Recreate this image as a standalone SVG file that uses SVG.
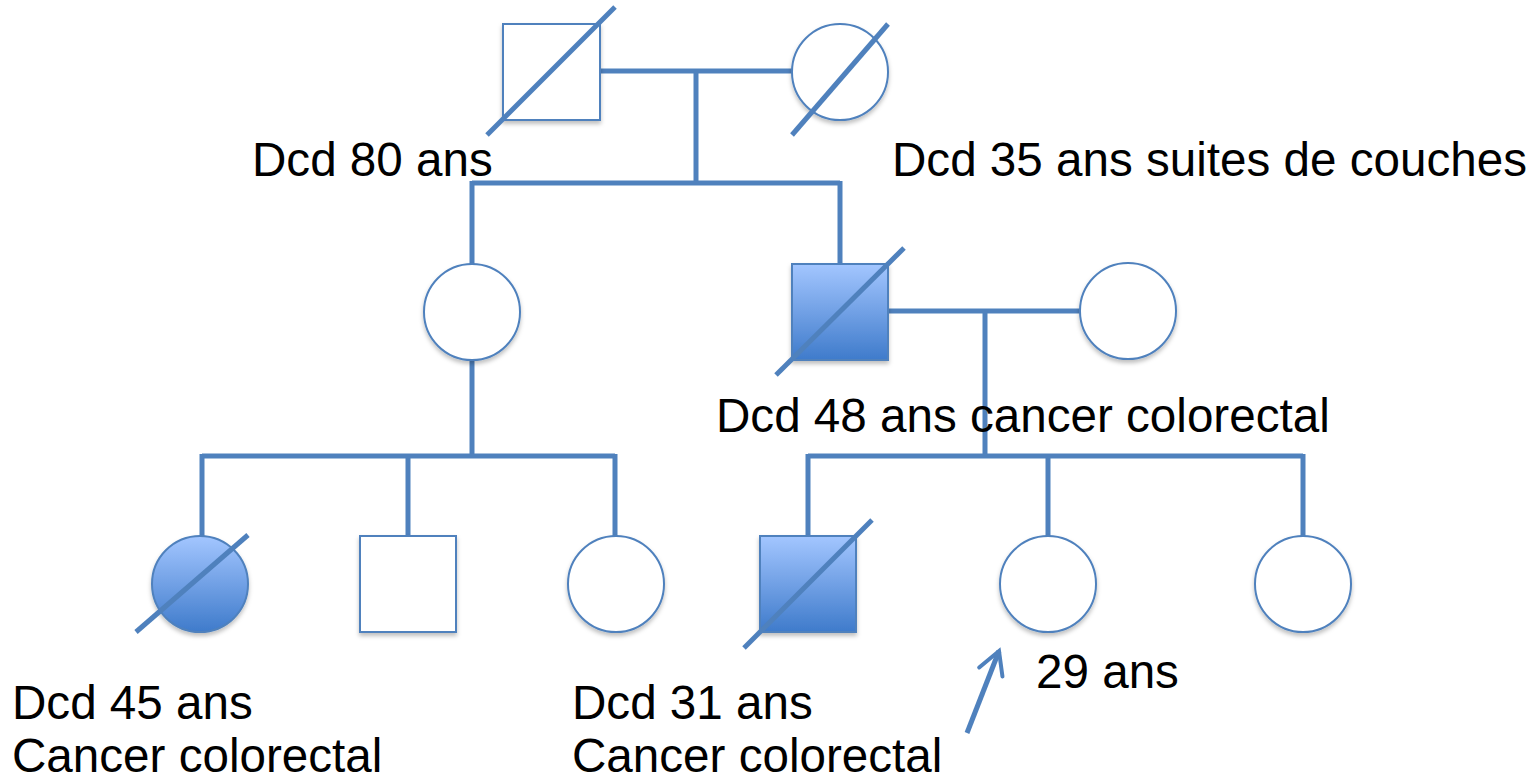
<svg xmlns="http://www.w3.org/2000/svg" width="1537" height="784" viewBox="0 0 1537 784">
  <defs>
    <linearGradient id="affected" x1="0" y1="0" x2="0" y2="1">
      <stop offset="0" stop-color="#A3C6FF"/>
      <stop offset="1" stop-color="#3F7BCB"/>
    </linearGradient>
    <filter id="shadow" x="-20%" y="-20%" width="140%" height="150%">
      <feDropShadow dx="0" dy="3" stdDeviation="2" flood-color="#000" flood-opacity="0.25"/>
    </filter>
    <marker id="head" viewBox="0 0 12 12" refX="10" refY="6" markerWidth="6" markerHeight="6" orient="auto" markerUnits="strokeWidth">
      <path d="M1,1 L10,6 L1,11" fill="none" stroke="#4F81BD" stroke-width="1.6" stroke-linecap="round"/>
    </marker>
  </defs>
  <style>
    .line { fill: none; stroke: #4F81BD; stroke-width: 5; }
    .shape { fill: #FFFFFF; stroke: #4F81BD; stroke-width: 2; filter: url(#shadow); }
    .sick { fill: url(#affected); stroke: #4F81BD; stroke-width: 2; filter: url(#shadow); }
    .dead { stroke: #4F81BD; stroke-width: 5; }
    .label { font-family: "Liberation Sans", Arial, sans-serif; font-size: 47.6px; fill: #000000; }
  </style>

  <rect width="1537" height="784" fill="#FFFFFF"/>

  <!-- connectors: marriage, descent and sibship lines -->
  <g id="connectors">
    <path class="line" d="M600,71 H792"/>
    <path class="line" d="M696,71 V183"/>
    <path class="line" d="M472,183 H840 M472,181 V264 M840,181 V264"/>
    <path class="line" d="M888,311 H1080"/>
    <path class="line" d="M985,311 V456"/>
    <path class="line" d="M472,360 V456"/>
    <path class="line" d="M202,456 H615 M202,454 V536 M408,454 V536 M615,454 V536"/>
    <path class="line" d="M808,456 H1303 M808,454 V536 M1048,454 V536 M1303,454 V536"/>
    <line x1="967" y1="733" x2="999" y2="651" stroke="#4F81BD" stroke-width="5" marker-end="url(#head)"/>
  </g>

  <!-- generation I -->
  <g id="grandfather">
    <rect class="shape" x="503" y="24" width="97" height="96"/>
    <line class="dead" x1="487" y1="135" x2="615" y2="7"/>
  </g>
  <g id="grandmother">
    <circle class="shape" cx="840" cy="72" r="48"/>
    <line class="dead" x1="792" y1="135" x2="888" y2="24"/>
  </g>

  <!-- generation II -->
  <g id="aunt">
    <circle class="shape" cx="472" cy="312" r="48"/>
  </g>
  <g id="father">
    <rect class="sick" x="792" y="264" width="96" height="96"/>
    <line class="dead" x1="776" y1="375" x2="904" y2="248"/>
  </g>
  <g id="mother">
    <circle class="shape" cx="1128" cy="311" r="48"/>
  </g>

  <!-- generation III -->
  <g id="cousin1">
    <circle class="sick" cx="200" cy="584" r="48"/>
    <line class="dead" x1="136" y1="632" x2="248" y2="535"/>
  </g>
  <g id="cousin2">
    <rect class="shape" x="360" y="536" width="96" height="96"/>
  </g>
  <g id="cousin3">
    <circle class="shape" cx="616" cy="584" r="48"/>
  </g>
  <g id="brother">
    <rect class="sick" x="760" y="536" width="96" height="96"/>
    <line class="dead" x1="744" y1="648" x2="872" y2="520"/>
  </g>
  <g id="proband">
    <circle class="shape" cx="1048" cy="584" r="48"/>
  </g>
  <g id="sister">
    <circle class="shape" cx="1303" cy="584" r="48"/>
  </g>

  <!-- annotations -->
  <g id="labels">
    <text class="label" x="252" y="176">Dcd 80 ans</text>
    <text class="label" x="892" y="176">Dcd 35 ans suites de couches</text>
    <text class="label" x="716" y="432">Dcd 48 ans cancer colorectal</text>
    <text class="label" x="1036" y="688">29 ans</text>
    <text class="label" x="12" y="719">Dcd 45 ans</text>
    <text class="label" x="12" y="772">Cancer colorectal</text>
    <text class="label" x="572" y="719">Dcd 31 ans</text>
    <text class="label" x="572" y="772">Cancer colorectal</text>
  </g>
</svg>
